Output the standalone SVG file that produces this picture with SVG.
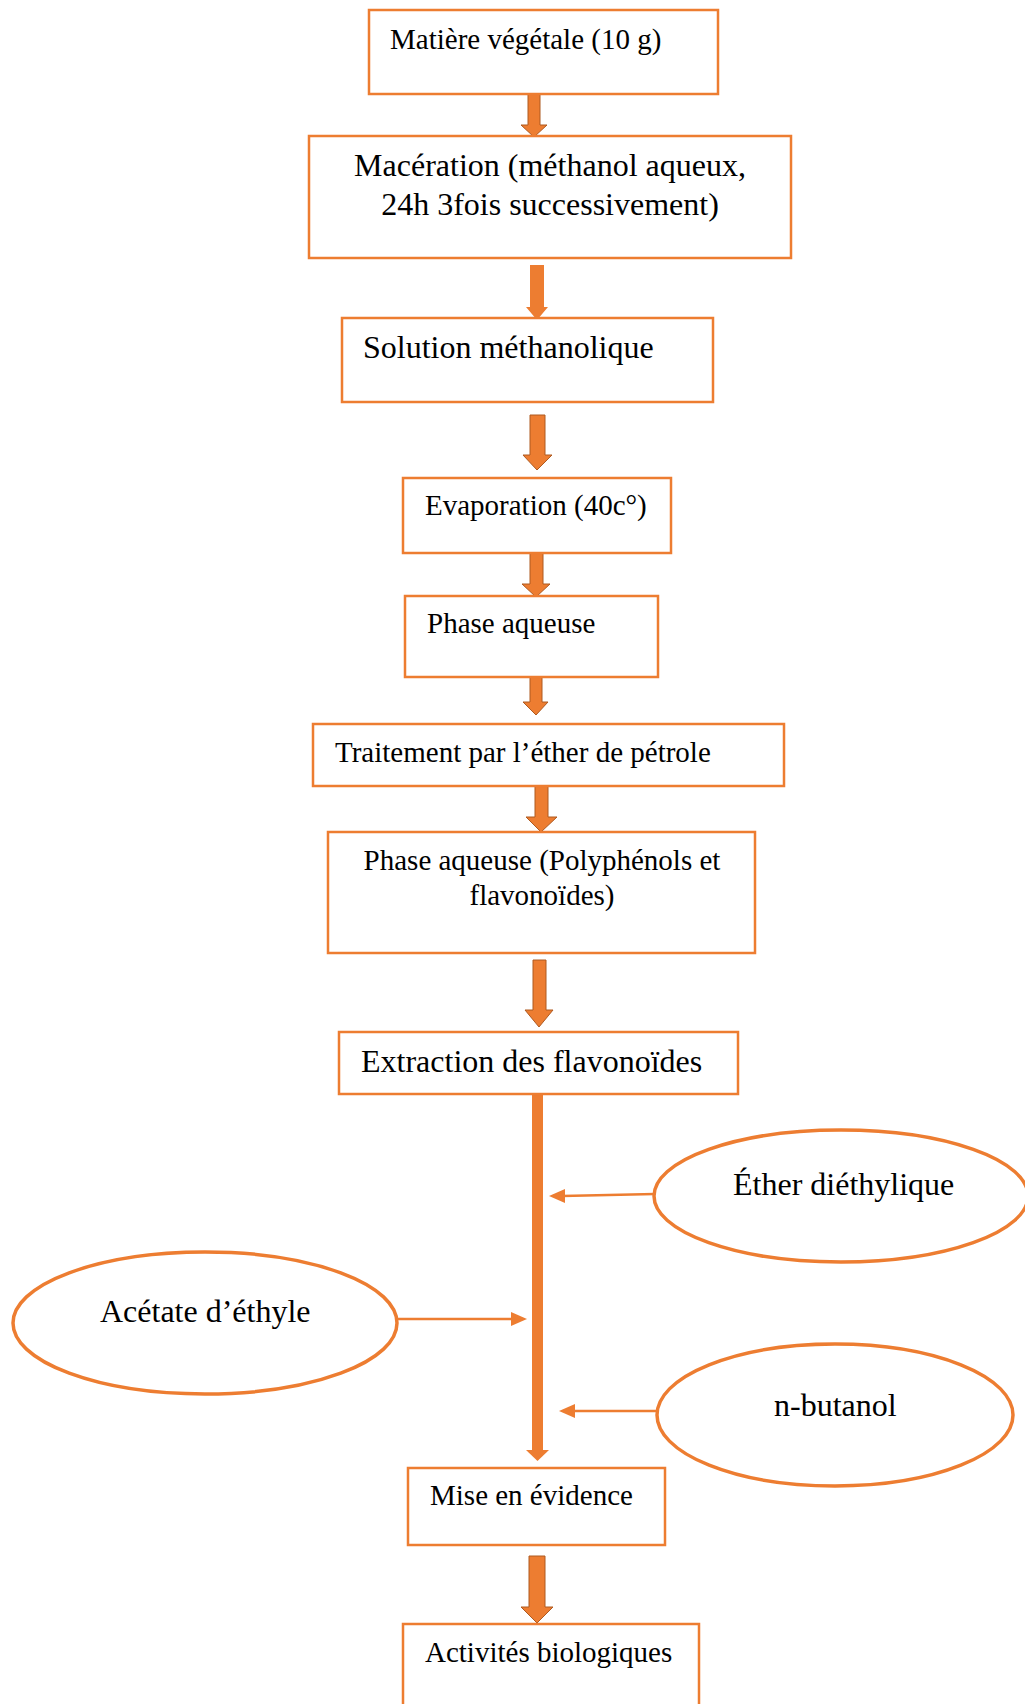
<svg xmlns="http://www.w3.org/2000/svg" width="1025" height="1704" viewBox="0 0 1025 1704">
<style>
.box{fill:#fff;stroke:#ED7D31;stroke-width:2.5}
.ell{fill:#fff;stroke:#ED7D31;stroke-width:3.5}
.t{font-family:"Liberation Serif","Times New Roman",serif;fill:#000}
.s29{font-size:29px}
.s32{font-size:32px}
.blk{fill:#ED7D31;stroke:#AE5A21;stroke-width:1}
.ln{stroke:#ED7D31;stroke-width:2.5;fill:none}
.hd{fill:#ED7D31}
</style>
<rect width="1025" height="1704" fill="#fff"/>
<g id="connectors">
<polygon class="blk" points="528,94 540,94 540,125 547,125 534,137 521,125 528,125"/>
<polygon class="blk" points="530,265 544,265 544,307 548,307 537,320 526,307 530,307" style="stroke:none"/>
<polygon class="blk" points="530,415 545,415 545,455 552,455 537,470 523,455 530,455"/>
<polygon class="blk" points="530,553 543,553 543,584 550,584 536,597 522,584 530,584"/>
<polygon class="blk" points="530,677 542,677 542,702 548,702 536,715 523,702 530,702"/>
<polygon class="blk" points="535,786 548,786 548,817 557,817 541,832 526,817 535,817"/>
<polygon class="blk" points="533,960 546,960 546,1010 553,1010 539,1027 525,1010 533,1010"/>
<polygon class="blk" points="529,1556 545,1556 545,1607 553,1607 537,1623 521,1607 529,1607"/>
<rect x="532" y="1094" width="11" height="357" fill="#ED7D31"/>
<polygon class="hd" points="526,1450 549,1450 537.5,1461"/>
<line class="ln" x1="655" y1="1194" x2="562" y2="1196"/>
<polygon class="hd" points="549,1196 565,1189 565,1203"/>
<line class="ln" x1="397" y1="1319" x2="513" y2="1319"/>
<polygon class="hd" points="527,1319 511,1312 511,1326"/>
<line class="ln" x1="669" y1="1411" x2="572" y2="1411"/>
<polygon class="hd" points="559,1411 575,1404 575,1418"/>
</g>
<g id="n1"><rect class="box" x="369" y="10" width="349" height="84"/><text class="t s29" x="390" y="49">Matière végétale (10 g)</text></g>
<g id="n2"><rect class="box" x="309" y="136" width="482" height="122"/><text class="t s32" x="550" y="176" text-anchor="middle">Macération (méthanol aqueux,</text><text class="t s32" x="550" y="215" text-anchor="middle">24h 3fois successivement)</text></g>
<g id="n3"><rect class="box" x="342" y="318" width="371" height="84"/><text class="t s32" x="363" y="358">Solution méthanolique</text></g>
<g id="n4"><rect class="box" x="403" y="478" width="268" height="75"/><text class="t s29" x="425" y="515">Evaporation (40c°)</text></g>
<g id="n5"><rect class="box" x="405" y="596" width="253" height="81"/><text class="t s29" x="427" y="633">Phase aqueuse</text></g>
<g id="n6"><rect class="box" x="313" y="724" width="471" height="62"/><text class="t s29" x="335" y="762">Traitement par l’éther de pétrole</text></g>
<g id="n7"><rect class="box" x="328" y="832" width="427" height="121"/><text class="t s29" x="542" y="870" text-anchor="middle">Phase aqueuse (Polyphénols et</text><text class="t s29" x="542" y="905" text-anchor="middle">flavonoïdes)</text></g>
<g id="n8"><rect class="box" x="339" y="1032" width="399" height="62"/><text class="t s32" x="361" y="1072">Extraction des flavonoïdes</text></g>
<g id="e1"><ellipse class="ell" cx="841" cy="1196" rx="187" ry="66"/><text class="t s32" x="733" y="1195">Éther diéthylique</text></g>
<g id="e2"><ellipse class="ell" cx="205" cy="1323" rx="192" ry="71"/><text class="t s32" x="100" y="1322">Acétate d’éthyle</text></g>
<g id="e3"><ellipse class="ell" cx="835" cy="1415" rx="178" ry="71"/><text class="t s32" x="774" y="1416">n-butanol</text></g>
<g id="n9"><rect class="box" x="408" y="1468" width="257" height="77"/><text class="t s29" x="430" y="1505">Mise en évidence</text></g>
<g id="n10"><rect class="box" x="403" y="1624" width="296" height="100"/><text class="t s29" x="425" y="1662">Activités biologiques</text></g>
</svg>
